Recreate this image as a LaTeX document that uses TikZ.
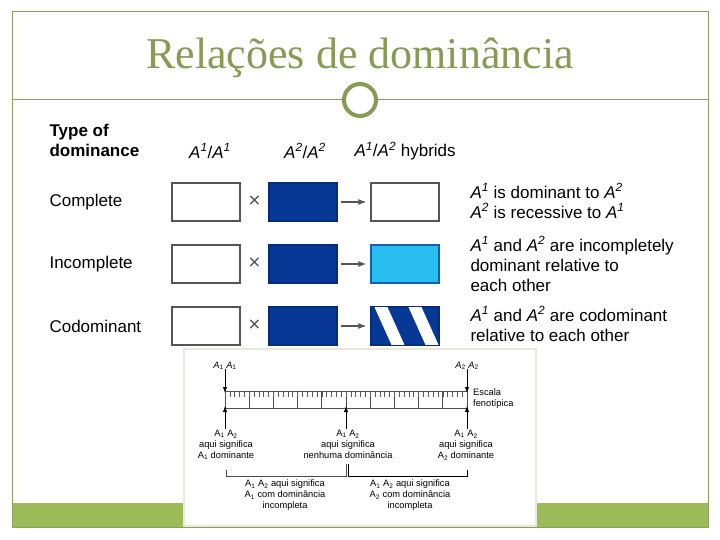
\documentclass[tikz,border=0pt]{standalone}
\usepackage{fontspec}
\setmainfont{Liberation Sans}
\newfontfamily\titlefont{Liberation Serif}
\usetikzlibrary{arrows.meta,calc}
\definecolor{frameC}{RGB}{140,158,92}
\definecolor{titleC}{RGB}{135,155,85}
\definecolor{barC}{RGB}{155,187,89}
\definecolor{darkB}{RGB}{8,56,150}
\definecolor{lightB}{RGB}{42,190,240}
\definecolor{edgeC}{RGB}{85,85,85}
\definecolor{paperC}{RGB}{232,232,222}
\newcommand{\allele}[1]{\textit{A}\textsuperscript{\textit{#1}}}
\tikzset{
  cell/.style={draw=edgeC,line width=1.3pt,minimum width=68pt,minimum height=38pt,inner sep=0pt},
  big/.style={font=\fontsize{17}{20}\selectfont},
  small/.style={font=\fontsize{9.3}{11}\selectfont,align=center,inner sep=1pt},
  pointer/.style={-{Latex[length=6pt,width=4.5pt]},line width=0.9pt},
}
\begin{document}
\begin{tikzpicture}[x=1pt,y=-1pt]
                \useasboundingbox (0,0) rectangle (720,540);
                \fill[white] (0,0) rectangle (720,540);
                % slide frame
                \fill[barC] (12,503) rectangle (708,527);
                \draw[frameC,line width=1pt] (12,12) rectangle (708,527);
                \node[titleC,font=\titlefont\fontsize{44}{44}\selectfont,anchor=base] (title) at (360,69) {Relações de dominância};
                \node[circle,draw=titleC,line width=4pt,minimum size=32pt,inner sep=0pt] (ring) at (360,100) {};
                \draw[frameC,line width=1pt] (12,100) -- (ring.west);
                \draw[frameC,line width=1pt] (ring.east) -- (708,100);

                % headers
                \node[big,font=\bfseries\fontsize{17}{20}\selectfont,align=left,anchor=west] (type) at (46,140) {Type of\\dominance};
                \node[big] (h1) at (210,151) {\allele{1}/\allele{1}};
                \node[big] (h2) at (305,151) {\allele{2}/\allele{2}};
                \node[big,anchor=west] (h3) at (351,151) {\allele{1}/\allele{2} hybrids};

                % rows
                \node[big,anchor=west] (comp) at (46,202) {Complete};
                \node[big,anchor=west] (inc) at (46,264) {Incomplete};
                \node[big,anchor=west] (cod) at (46,326) {Codominant};

                \node[cell,fill=white] (p1) at (206,202) {};
                \node[cell,fill=white] (p2) at (206,264) {};
                \node[cell,fill=white] (p3) at (206,326) {};
                \node[cell,fill=darkB,draw=darkB!80!black] (q1) at (303,202) {};
                \node[cell,fill=darkB,draw=darkB!80!black] (q2) at (303,264) {};
                \node[cell,fill=darkB,draw=darkB!80!black] (q3) at (303,326) {};
                \node[cell,fill=white] (r1) at (405,202) {};
                \node[cell,fill=lightB,draw=darkB!70!lightB] (r2) at (405,264) {};
                \node[cell,fill=darkB,draw=darkB!80!black] (r3) at (405,326) {};
                \begin{scope}
                \clip (r3.north west) rectangle (r3.south east);
                \fill[white] (374,306) -- (387,306) -- (405,346) -- (392,346) -- cycle;
                \fill[white] (408,306) -- (421,306) -- (439,346) -- (426,346) -- cycle;
                \end{scope}
                \draw[darkB!80!black,line width=1.3pt] (r3.north west) rectangle (r3.south east);

                \foreach \i in {1,2,3} {
                  \node[font=\fontsize{21}{21}\selectfont,text=edgeC] at ($(p\i.east)!0.5!(q\i.west)$) {×};
                  \draw[-{Latex[length=8pt,width=6pt]},edgeC,line width=1.2pt,shorten <=3pt,shorten >=4pt] (q\i.east) -- (r\i.west);
                }

                \node[big,align=left,anchor=west] (d1) at (467,201) {\allele{1} is dominant to \allele{2}\\\allele{2} is recessive to \allele{1}};
                \node[big,align=left,anchor=west] (d2) at (467,264) {\allele{1} and \allele{2} are incompletely\\dominant relative to\\each other};
                \node[big,align=left,anchor=west] (d3) at (467,324) {\allele{1} and \allele{2} are codominant\\relative to each other};

                % phenotypic scale picture
                \filldraw[fill=white,draw=paperC,line width=2pt] (184,349) rectangle (536,526);
                \coordinate (s0) at (225,391);
                \coordinate (s1) at (467,391);
                \draw[gray!60!black,line width=0.8pt] (225,391) rectangle (467,408);
                \foreach \k in {1,...,9}
                  \draw[gray!60!black,line width=0.8pt] (225+24.2*\k,391) -- (225+24.2*\k,408);
                \foreach \k in {0,...,49}
                  \draw[gray!70!black,line width=0.6pt] (225+4.84*\k,391) -- (225+4.84*\k,397);
                \coordinate (sm) at (346,408);
                \coordinate (sl) at (225,408);
                \coordinate (sr) at (467,408);

                \node[small] (top1) at (225,366) {\textit{A}\textsubscript{1} \textit{A}\textsubscript{1}};
                \node[small] (top2) at (467,366) {\textit{A}\textsubscript{2} \textit{A}\textsubscript{2}};
                \draw[pointer] ([yshift=2pt]top1.south) -- ([yshift=-2pt]s0);
                \draw[pointer] ([yshift=2pt]top2.south) -- ([yshift=-2pt]s1);
                \node[small,align=left,anchor=west] (esc) at (472,399) {Escala\\fenotípica};

                \node[small,anchor=north] (low1) at (226,429) {A\textsubscript{1} A\textsubscript{2}\\aqui significa\\A\textsubscript{1} dominante};
                \node[small,anchor=north] (low2) at (348,429) {A\textsubscript{1} A\textsubscript{2}\\aqui significa\\nenhuma dominância};
                \node[small,anchor=north] (low3) at (466,429) {A\textsubscript{1} A\textsubscript{2}\\aqui significa\\A\textsubscript{2} dominante};
                \draw[pointer] (low1.north -| sl) -- ([yshift=2pt]sl);
                \draw[pointer] (low2.north -| sm) -- ([yshift=2pt]sm);
                \draw[pointer] (low3.north -| sr) -- ([yshift=2pt]sr);

                \draw[gray!60!black,line width=0.7pt] (226,470) -- (226,476) -- (346,476) -- (346,464);
                \draw[black,line width=0.7pt] (348,464) -- (348,476) -- (467,476) -- (467,470);
                \node[small,anchor=north] (br1) at (285,479) {A\textsubscript{1} A\textsubscript{2} aqui significa\\A\textsubscript{1} com dominância\\incompleta};
                \node[small,anchor=north] (br2) at (410,479) {A\textsubscript{1} A\textsubscript{2} aqui significa\\A\textsubscript{2} com dominância\\incompleta};
\end{tikzpicture}
\end{document}
